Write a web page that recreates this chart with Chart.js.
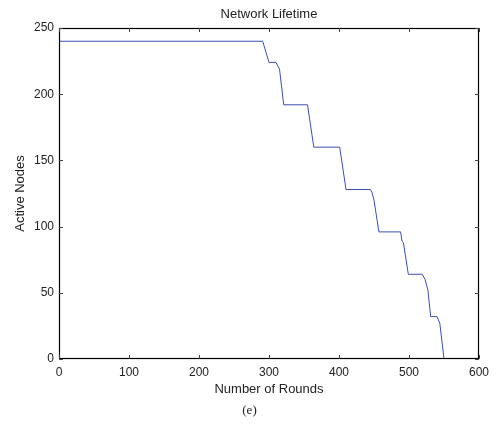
<!DOCTYPE html>
<html>
<head>
<meta charset="utf-8">
<script src="https://cdn.jsdelivr.net/npm/chart.js@4.4.1/dist/chart.umd.min.js"></script>
<style>
html,body{margin:0;padding:0;background:#fff;}
#wrap{width:499px;height:431px;position:relative;}
</style>
</head>
<body>
<div id="wrap"><canvas id="c" width="499" height="431"></canvas></div>
<script>
const rounds      = [0, 291, 300, 310, 315, 321, 355, 364, 401, 410, 445, 447, 450, 457, 488, 490, 492, 499, 519, 523, 527, 531, 540, 544, 550];
const activeNodes = [240, 240, 224, 224, 219, 192, 192, 160, 160, 128, 128, 126, 120, 96, 96, 89, 88, 64, 64, 60, 52, 32, 32, 27, 0];
const xTicks = [0, 100, 200, 300, 400, 500, 600];
const yTicks = [0, 50, 100, 150, 200, 250];
const chartTitle = 'Network Lifetime';
const xTitle = 'Number of Rounds';
const yTitle = 'Active Nodes';
const caption = '(e)';

const points = rounds.map((r, i) => ({x: r, y: activeNodes[i]}));
const FONT = 'Liberation Sans, Arial, sans-serif';

const boxTicks = {
  id: 'boxTicks',
  afterDraw(chart) {
    const {ctx, chartArea: a, scales: {x, y}} = chart;
    ctx.save();
    ctx.strokeStyle = '#000';
    ctx.lineWidth = 1.2;
    ctx.strokeRect(Math.round(a.left) + 0.5, Math.round(a.top) + 0.5,
                   Math.round(a.right - a.left) - 1, Math.round(a.bottom - a.top) - 1);
    ctx.strokeStyle = '#444';
    ctx.lineWidth = 1;
    const L = 4;
    ctx.beginPath();
    x.ticks.forEach(t => {
      const px = Math.round(x.getPixelForValue(t.value)) + 0.5;
      ctx.moveTo(px, a.bottom); ctx.lineTo(px, a.bottom - L);
      ctx.moveTo(px, a.top); ctx.lineTo(px, a.top + L);
    });
    y.ticks.forEach(t => {
      const py = Math.round(y.getPixelForValue(t.value)) + 0.5;
      ctx.moveTo(a.left, py); ctx.lineTo(a.left + L, py);
      ctx.moveTo(a.right, py); ctx.lineTo(a.right - L, py);
    });
    ctx.stroke();
    ctx.restore();
  }
};

new Chart(document.getElementById('c'), {
  type: 'line',
  data: {
    datasets: [{
      data: points,
      borderColor: '#3a4fb2',
      borderWidth: 1,
      pointRadius: 0,
      fill: false,
      tension: 0
    }]
  },
  options: {
    responsive: false,
    animation: false,
    layout: {padding: {left: 10, right: 10, top: 0, bottom: 0}},
    plugins: {
      legend: {display: false},
      tooltip: {enabled: false},
      title: {display: false},
      subtitle: {
        display: true, text: caption, position: 'bottom', color: '#222',
        font: {family: 'Liberation Serif, Times New Roman, serif', size: 13, weight: 'normal', lineHeight: 1.2},
        padding: {top: 0, bottom: 13}
      }
    },
    scales: {
      x: {
        type: 'linear', min: 0, max: 600,
        afterBuildTicks(s) { s.ticks = xTicks.map(v => ({value: v})); },
        afterFit(s) { s.height = 43.4; },
        grid: {display: false, drawTicks: false},
        border: {display: false},
        ticks: {color: '#222', padding: 6, font: {family: FONT, size: 12}, maxRotation: 0},
        title: {display: true, text: xTitle, color: '#222', font: {family: FONT, size: 13, lineHeight: 1.2}, padding: {top: 0, bottom: 5.2}}
      },
      xTop: {
        type: 'linear', position: 'top', min: 0, max: 600,
        afterFit(s) { s.height = 28; },
        grid: {display: false, drawTicks: false},
        border: {display: false},
        ticks: {display: false},
        title: {display: true, text: chartTitle, color: '#222', font: {family: FONT, size: 13, lineHeight: 1.2}, padding: {top: 6.8, bottom: 0}}
      },
      y: {
        type: 'linear', min: 0, max: 250,
        afterBuildTicks(s) { s.ticks = yTicks.map(v => ({value: v})); },
        afterFit(s) { s.width = 49; },
        grid: {display: false, drawTicks: false},
        border: {display: false},
        ticks: {color: '#222', padding: 5, font: {family: FONT, size: 12}},
        title: {display: true, text: yTitle, color: '#222', font: {family: FONT, size: 13, lineHeight: 1.2}, padding: {top: 2.2, bottom: 0}}
      },
      yRight: {
        type: 'linear', position: 'right', min: 0, max: 250,
        afterFit(s) { s.width = 10; },
        grid: {display: false, drawTicks: false},
        border: {display: false},
        ticks: {display: false}
      }
    }
  },
  plugins: [boxTicks]
});
</script>
</body>
</html>
